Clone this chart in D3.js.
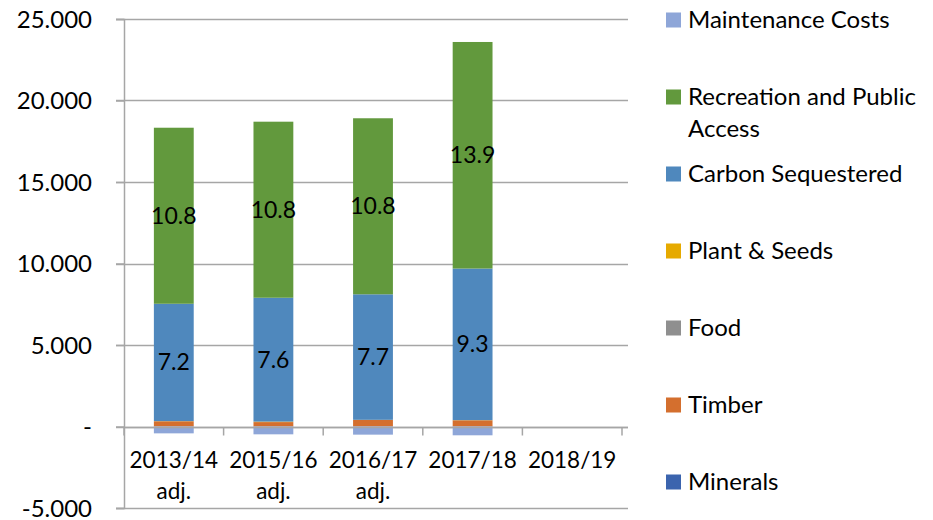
<!DOCTYPE html>
<html>
<head>
<meta charset="utf-8">
<script src="https://cdn.jsdelivr.net/npm/d3@7"></script>
<style>
  body { margin: 0; background: #fff; }
  text { font-family: Lato, "Open Sans", sans-serif; fill: #000; }
</style>
</head>
<body>
<svg id="chart" width="933" height="520"></svg>
<script>
// Data (axis units; labels shown in thousands)
const categories = ["2013/14 adj.", "2015/16 adj.", "2016/17 adj.", "2017/18", "2018/19"];
const minerals    = [0, 0, 0, 0, 0];
const timber      = [320, 270, 400, 380, 0];
const food        = [0, 0, 0, 0, 0];
const plantSeeds  = [10, 30, 10, 10, 0];
const carbon      = [7200, 7600, 7700, 9300, 0];
const recreation  = [10800, 10800, 10800, 13900, 0];
const maintenance = [-420, -480, -500, -540, 0];

const yTicks = [-5000, 0, 5000, 10000, 15000, 20000, 25000];
const yTickLabels = ["-5.000", "-", "5.000", "10.000", "15.000", "20.000", "25.000"];

// stacking order, bottom to top
const seriesKeys = ["Minerals", "Timber", "Food", "Plant & Seeds", "Carbon Sequestered", "Recreation and Public Access", "Maintenance Costs"];
const seriesValues = [minerals, timber, food, plantSeeds, carbon, recreation, maintenance];
const colors = {
  "Minerals": "#3B64AE",
  "Timber": "#D46F2E",
  "Food": "#8F8F8F",
  "Plant & Seeds": "#E6AA00",
  "Carbon Sequestered": "#4F88BD",
  "Recreation and Public Access": "#62993D",
  "Maintenance Costs": "#8EA6D8"
};
const labelled = ["Carbon Sequestered", "Recreation and Public Access"];

// legend order top-down
const legendItems = ["Maintenance Costs", "Recreation and Public Access", "Carbon Sequestered", "Plant & Seeds", "Food", "Timber", "Minerals"];

const table = categories.map((c, i) => {
  const row = { cat: c };
  seriesKeys.forEach((k, j) => row[k] = seriesValues[j][i]);
  return row;
});

const svg = d3.select("#chart");
const plotLeft = 124, plotRight = 622, plotTop = 19, plotBottom = 508;

const x = d3.scaleBand()
  .domain(categories)
  .range([plotLeft, plotRight])
  .paddingInner(0.6)
  .paddingOuter(0.3);

const y = d3.scaleLinear()
  .domain([-5000, 25000])
  .range([plotBottom, plotTop]);

const gridColor = "#A6A6A6";

// gridlines
svg.append("g")
  .selectAll("line")
  .data(yTicks)
  .join("line")
    .attr("x1", plotLeft - 8)
    .attr("x2", plotRight + 6)
    .attr("y1", d => Math.round(y(d)) + 0.5)
    .attr("y2", d => Math.round(y(d)) + 0.5)
    .attr("stroke", gridColor)
    .attr("stroke-width", 1.5);

// y axis
const yAxis = svg.append("g")
  .attr("transform", `translate(${plotLeft},0)`)
  .call(d3.axisLeft(y).tickValues(yTicks).tickSize(8).tickPadding(24)
    .tickFormat((d, i) => yTickLabels[i]));
yAxis.select(".domain").attr("stroke", gridColor).attr("stroke-width", 1.5);
yAxis.selectAll(".tick line").attr("stroke", gridColor).attr("stroke-width", 1.5);
yAxis.selectAll(".tick text").style("font-size", "24px").attr("fill", "#000").attr("dy", "0.35em");

// stacked bars
const stack = d3.stack().keys(seriesKeys).offset(d3.stackOffsetDiverging);
const stacked = stack(table);

const layers = svg.append("g")
  .selectAll("g")
  .data(stacked)
  .join("g")
    .attr("fill", d => colors[d.key]);

layers.selectAll("rect")
  .data(d => d.map(v => Object.assign(v, { key: d.key })))
  .join("rect")
    .attr("x", d => x(d.data.cat))
    .attr("width", x.bandwidth())
    .attr("y", d => y(Math.max(d[0], d[1])))
    .attr("height", d => Math.abs(y(d[0]) - y(d[1])));

// zero axis with category ticks
const zeroY = Math.round(y(0)) + 0.5;
svg.append("line")
  .attr("x1", plotLeft).attr("x2", plotRight + 6)
  .attr("y1", zeroY).attr("y2", zeroY)
  .attr("stroke", gridColor).attr("stroke-width", 1.5);

const step = x.step();
svg.append("g")
  .selectAll("line")
  .data(d3.range(categories.length + 1))
  .join("line")
    .attr("x1", i => plotLeft + i * step)
    .attr("x2", i => plotLeft + i * step)
    .attr("y1", zeroY)
    .attr("y2", zeroY + 8)
    .attr("stroke", gridColor)
    .attr("stroke-width", 1.5);

// data labels
const labelData = stacked.filter(s => labelled.includes(s.key))
  .flatMap(s => s.filter(d => d[1] - d[0] > 0));
svg.append("g")
  .selectAll("text")
  .data(labelData)
  .join("text")
    .attr("x", d => x(d.data.cat) + x.bandwidth() / 2)
    .attr("y", d => y((d[0] + d[1]) / 2))
    .attr("dy", "0.35em")
    .attr("text-anchor", "middle")
    .style("font-size", "23px")
    .text(d => d3.format(".1f")((d[1] - d[0]) / 1000));

// category labels
const catLabels = svg.append("g")
  .selectAll("text")
  .data(categories)
  .join("text")
    .attr("x", d => x(d) + x.bandwidth() / 2)
    .attr("y", 460)
    .attr("text-anchor", "middle")
    .style("font-size", "22.5px");
catLabels.each(function(d) {
  const parts = d.split(" ");
  const t = d3.select(this);
  parts.forEach((p, i) => {
    t.append("tspan")
      .attr("x", x(d) + x.bandwidth() / 2)
      .attr("dy", i === 0 ? "0.35em" : "1.38em")
      .text(p);
  });
});

// legend
const legend = svg.append("g")
  .selectAll("g")
  .data(legendItems)
  .join("g")
    .attr("transform", (d, i) => `translate(666,${20 + i * 77})`);
legend.append("rect")
  .attr("x", 0).attr("y", -7.5)
  .attr("width", 15).attr("height", 15)
  .attr("fill", d => colors[d]);
legend.append("text")
  .attr("x", 22)
  .attr("dy", "0.35em")
  .style("font-size", "24px")
  .each(function(d) {
    const t = d3.select(this);
    if (d === "Recreation and Public Access") {
      t.append("tspan").attr("x", 22).text("Recreation and Public");
      t.append("tspan").attr("x", 22).attr("dy", "1.3em").text("Access");
    } else {
      t.text(d);
    }
  });
</script>
</body>
</html>
